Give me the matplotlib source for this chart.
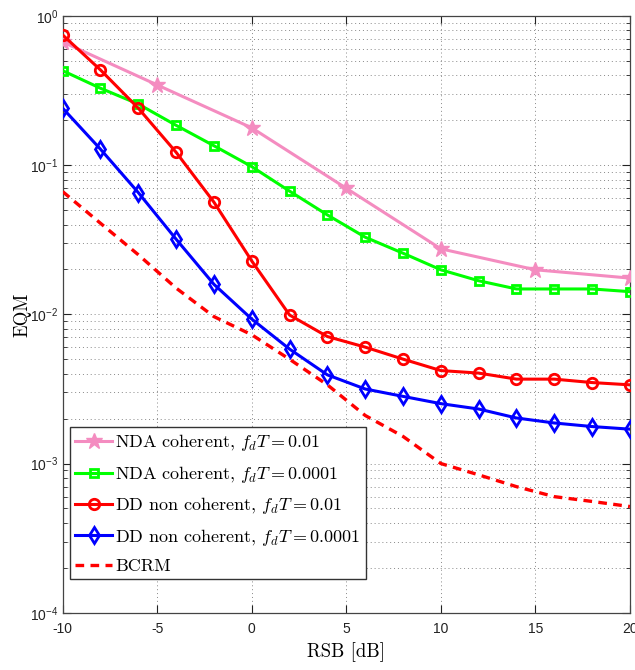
import matplotlib
matplotlib.use("Agg")
import matplotlib.pyplot as plt
from matplotlib.font_manager import FontProperties
from matplotlib.ticker import LogLocator, NullFormatter
import numpy as np

# ---- data ----
snr_star = [-10, -5, 0, 5, 10, 15, 20]
nda_coh_001 = [0.67, 0.345, 0.178, 0.070, 0.0275, 0.0199, 0.0175]

snr = [-10, -8, -6, -4, -2, 0, 2, 4, 6, 8, 10, 12, 14, 16, 18, 20]
nda_coh_00001 = [0.43, 0.328, 0.257, 0.185, 0.135, 0.0978, 0.067, 0.0464,
                 0.0329, 0.0257, 0.0199, 0.0168, 0.0148, 0.0148, 0.0148, 0.0142]
dd_nc_001 = [0.746, 0.435, 0.241, 0.122, 0.0565, 0.0228, 0.0099, 0.0071,
             0.00603, 0.00501, 0.0042, 0.00404, 0.00368, 0.00368, 0.00349, 0.00337]
dd_nc_00001 = [0.241, 0.128, 0.0655, 0.0319, 0.0159, 0.0093, 0.00585, 0.00393,
               0.00316, 0.00282, 0.00252, 0.00232, 0.00202, 0.00187, 0.00177, 0.0017]
bcrm = [0.0665, 0.0408, 0.0251, 0.0150, 0.00966, 0.0073, 0.0050, 0.00337,
        0.0021, 0.00152, 0.0010, 0.00084, 0.0007, 0.0006, 0.000557, 0.000515]

labels = [r"NDA coherent, $f_dT = 0.01$",
          r"NDA coherent, $f_dT = 0.0001$",
          r"DD non coherent, $f_dT = 0.01$",
          r"DD non coherent, $f_dT = 0.0001$",
          r"BCRM"]
xticks = [-10, -5, 0, 5, 10, 15, 20]

# ---- figure ----
plt.rcParams['font.family'] = ['Liberation Sans', 'DejaVu Sans']
plt.rcParams['axes.formatter.use_mathtext'] = True

fig = plt.figure(figsize=(6.35, 6.7), dpi=100)
ax = fig.add_axes([0.0987, 0.0855, 0.8933, 0.8906])

lw = 2.2
ax.semilogy(snr_star, nda_coh_001, color='#F48CC0', lw=lw, marker='*', ms=12,
            mfc='#F48CC0', mec='#F48CC0', label=labels[0], zorder=3)
ax.semilogy(snr, nda_coh_00001, color='#00FF00', lw=lw, marker='s', ms=6,
            mfc='none', mec='#00FF00', mew=2, label=labels[1], zorder=3)
ax.semilogy(snr, dd_nc_001, color='#FF0000', lw=lw, marker='o', ms=7.5,
            mfc='none', mec='#FF0000', mew=2, label=labels[2], zorder=4)
ax.semilogy(snr, dd_nc_00001, color='#0000FF', lw=lw, marker='d', ms=8.5,
            mfc='none', mec='#0000FF', mew=2, label=labels[3], zorder=4)
ax.semilogy(snr, bcrm, color='#FF0000', lw=lw + 0.2, ls=(0, (2.6, 1.9)),
            label=labels[4], zorder=3)

ax.set_xlim(-10, 20)
ax.set_ylim(1e-4, 1)
ax.set_xticks(xticks)
ax.set_xticklabels([str(v) for v in xticks])
ax.yaxis.set_major_locator(LogLocator(base=10, numticks=10))
ax.yaxis.set_minor_locator(LogLocator(base=10, subs=np.arange(2, 10), numticks=20))
ax.yaxis.set_minor_formatter(NullFormatter())

ax.tick_params(which='both', direction='in', top=True, right=True, labelsize=10,
               colors='#222222')
ax.tick_params(which='major', length=6, width=0.8)
ax.tick_params(which='minor', length=3, width=0.6)
ax.tick_params(axis='x', pad=7)
ax.tick_params(axis='y', pad=3)

ax.grid(True, which='major', axis='both', ls=(0, (1, 3)), color='#888888', lw=0.7)
ax.grid(True, which='minor', axis='y', ls=(0, (1, 3)), color='#888888', lw=0.7)
for s in ax.spines.values():
    s.set_color('#444444')
    s.set_linewidth(0.9)

serif = FontProperties(family='cmr10', size=13.5, math_fontfamily='cm')
ax.set_xlabel("RSB [dB]", fontproperties=serif, labelpad=4)
ax.set_ylabel("EQM", fontproperties=serif, labelpad=-1)

legprop = FontProperties(family='cmr10', size=13, math_fontfamily='cm')
leg = ax.legend(loc='lower left', bbox_to_anchor=(0.013, 0.056), borderaxespad=0,
                prop=legprop, fancybox=False, framealpha=1, edgecolor='#333333',
                handlelength=2.0, handletextpad=0.2, labelspacing=0.58,
                borderpad=0.3)
leg.get_frame().set_linewidth(1.0)

fig.savefig("out.png", dpi=100)
